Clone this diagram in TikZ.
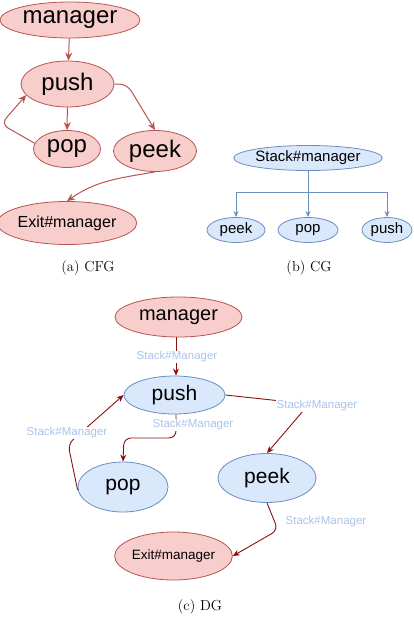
\documentclass[tikz,border=0pt]{standalone}
\usepackage{fontspec}
\newfontfamily\hv{Liberation Sans}
\usetikzlibrary{arrows.meta,shapes.geometric}
\definecolor{rfill}{HTML}{F8CECC}
\definecolor{rdraw}{HTML}{B85450}
\definecolor{bfill}{HTML}{DAE8FC}
\definecolor{bdraw}{HTML}{6C8EBF}
\definecolor{dred}{HTML}{8B1010}
\definecolor{lbl}{HTML}{A9C4EB}
\tikzset{
  rnode/.style={ellipse,draw=rdraw,fill=rfill,line width=0.8pt,inner sep=0pt,text=black},
  bnode/.style={ellipse,draw=bdraw,fill=bfill,line width=0.8pt,inner sep=0pt,text=black},
  cfgedge/.style={draw=rdraw,line width=1pt,-{Stealth[length=8pt,width=7pt]},rounded corners=8pt},
  cgedge/.style={draw=bdraw,line width=0.8pt,-{Stealth[length=6pt,width=5pt]}},
  dgedge/.style={draw=dred,line width=0.9pt,-{Stealth[length=7pt,width=6pt]},rounded corners=7pt},
  elbl/.style={fill=white,inner sep=1pt,text=lbl,font=\hv\fontsize{11.5}{13}\selectfont},
  captext/.style={font=\fontsize{14.5}{16}\selectfont}
}
\begin{document}
\begin{tikzpicture}[x=1pt,y=-1pt]
\useasboundingbox (0,0) rectangle (413,618);
% ---------- (a) CFG ----------
\node[rnode,minimum width=140,minimum height=36,font=\hv\fontsize{24}{26}\selectfont] (am) at (70,20) {manager};
\node[rnode,minimum width=93,minimum height=46,font=\hv\fontsize{24}{26}\selectfont] (apush) at (67.5,84) {push};
\node[rnode,minimum width=67,minimum height=37,font=\hv\fontsize{24}{26}\selectfont] (apop) at (67,149) {pop};
\node[rnode,minimum width=83,minimum height=41,font=\hv\fontsize{24}{26}\selectfont] (apeek) at (155,151) {peek};
\node[rnode,minimum width=120,minimum height=43,font=\hv\fontsize{16}{18}\selectfont] (aexit) at (67,223) {Exit\#manager};
\coordinate (a1) at (127,84);
\coordinate (a2) at (1,124);
\draw[cfgedge] (am) -- (apush);
\draw[cfgedge] (apush) -- (apop);
\draw[cfgedge] (apush.east) -- (a1) -- (apeek.north);
\draw[cfgedge] (apop.170) -- (a2) -- (apush.195);
\draw[cfgedge] (apeek.south) to[out=190,in=35] (aexit.north);
\node[captext] (capa) at (88,268) {(a)\ CFG};
% ---------- (b) CG ----------
\node[bnode,minimum width=130,minimum height=25,font=\hv\fontsize{15}{17}\selectfont] (bsm) at (308,158) {Stack\#manager};
\node[bnode,minimum width=58,minimum height=25,font=\hv\fontsize{15}{17}\selectfont] (bpeek) at (236,230) {peek};
\node[bnode,minimum width=60,minimum height=25,font=\hv\fontsize{15}{17}\selectfont] (bpop) at (308,230) {pop};
\node[bnode,minimum width=50,minimum height=25,font=\hv\fontsize{15}{17}\selectfont] (bpush) at (387,230) {push};
\coordinate (bj) at (308,192);
\draw[cgedge] (bsm.south) -- (bpop.north);
\draw[cgedge] (bj) -| (bpeek.north);
\draw[cgedge] (bj) -| (bpush.north);
\node[captext] (capb) at (309,268) {(b)\ CG};
% ---------- (c) DG ----------
\node[rnode,minimum width=127,minimum height=40,font=\hv\fontsize{20}{22}\selectfont] (cm) at (178.5,317) {manager};
\node[bnode,minimum width=101,minimum height=38,font=\hv\fontsize{21}{23}\selectfont] (cpush) at (174.5,395) {push};
\node[bnode,minimum width=90,minimum height=50,font=\hv\fontsize{21}{23}\selectfont] (cpop) at (123,487) {pop};
\node[bnode,minimum width=98,minimum height=49,font=\hv\fontsize{21}{23}\selectfont] (cpeek) at (267,478) {peek};
\node[rnode,minimum width=99,minimum height=48,font=\hv\fontsize{13.5}{15}\selectfont] (cexit) at (173.5,556) {Exit\#manager};
\coordinate (c0) at (176,0);
\coordinate (c1) at (176,438);
\coordinate (c2) at (124,438);
\coordinate (c3) at (68,444);
\coordinate (c4) at (309,404);
\coordinate (c5) at (278,530);
\coordinate (c6) at (0,490);
\draw[dgedge] (cm.south -| c0) -- (cpush.north -| c0);
\draw[dgedge] (cpush.south -| c1) -- (c1) -- (c2) -- (cpop.north);
\draw[dgedge] (cpop.west |- c6) -- (c3) -- (cpush.west);
\draw[dgedge] (cpush.east) -- (c4) -- (cpeek.north);
\draw[dgedge] (cpeek.south) -- (c5) -- (cexit.east);
\node[elbl] (l1) at (177,357) {Stack\#Manager};
\node[elbl] (l2) at (193,425) {Stack\#Manager};
\node[elbl] (l3) at (67,433) {Stack\#Manager};
\node[elbl] (l4) at (317,406) {Stack\#Manager};
\node[elbl] (l5) at (326,522) {Stack\#Manager};
\node[captext] (capc) at (200,607) {(c)\ DG};
\end{tikzpicture}
\end{document}
